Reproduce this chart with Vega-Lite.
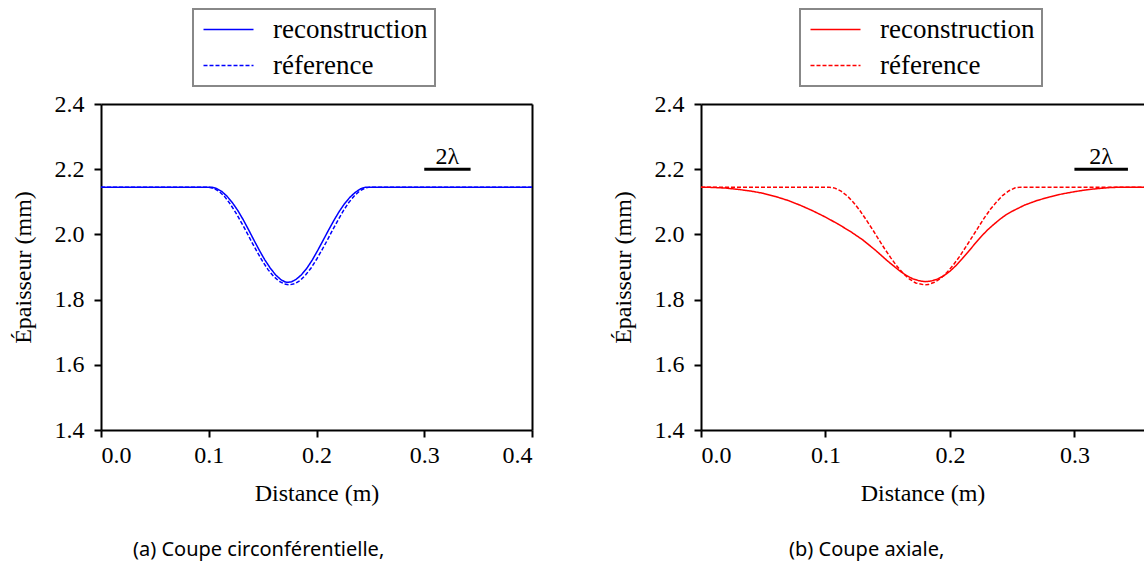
{
  "$schema": "https://vega.github.io/schema/vega-lite/v6.json",
  "background": "white",
  "padding": {"left": 11, "top": 8, "right": 0, "bottom": 10},
  "spacing": 169,
  "bounds": "flush",
  "config": {
    "view": {"stroke": null},
    "font": "Liberation Serif",
    "axis": {
      "domainColor": "black", "domainWidth": 2, "tickColor": "black", "tickWidth": 2, "tickSize": 7,
      "labelFont": "Liberation Serif", "labelFontSize": 24, "labelColor": "black", "labelPadding": 6,
      "titleFont": "Liberation Serif", "titleFontSize": 24, "titleFontWeight": "normal", "titleColor": "black",
      "grid": false
    },
    "legend": {
      "orient": "none", "title": null, "symbolType": "M-1,0H4", "symbolSize": 400, "symbolStrokeWidth": 1.5,
      "labelFont": "Liberation Serif", "labelFontSize": 27, "labelColor": "black", "labelOffset": 46,
      "strokeColor": "#888888", "strokeWidth": 2, "fillColor": "white", "padding": 7, "rowPadding": 8, "cornerRadius": 0
    }
  },
  "datasets": {
    "a": [
      {"s": "réference", "d": 0, "t": 2.145},
      {"s": "réference", "d": 0.0995, "t": 2.145},
      {"s": "réference", "d": 0.105, "t": 2.141},
      {"s": "réference", "d": 0.11, "t": 2.131},
      {"s": "réference", "d": 0.115, "t": 2.115},
      {"s": "réference", "d": 0.12, "t": 2.093},
      {"s": "réference", "d": 0.125, "t": 2.067},
      {"s": "réference", "d": 0.13, "t": 2.038},
      {"s": "réference", "d": 0.135, "t": 2.008},
      {"s": "réference", "d": 0.14, "t": 1.976},
      {"s": "réference", "d": 0.145, "t": 1.946},
      {"s": "réference", "d": 0.15, "t": 1.917},
      {"s": "réference", "d": 0.155, "t": 1.892},
      {"s": "réference", "d": 0.16, "t": 1.872},
      {"s": "réference", "d": 0.165, "t": 1.857},
      {"s": "réference", "d": 0.17, "t": 1.848},
      {"s": "réference", "d": 0.1745, "t": 1.845},
      {"s": "réference", "d": 0.18, "t": 1.849},
      {"s": "réference", "d": 0.185, "t": 1.859},
      {"s": "réference", "d": 0.19, "t": 1.876},
      {"s": "réference", "d": 0.195, "t": 1.897},
      {"s": "réference", "d": 0.2, "t": 1.923},
      {"s": "réference", "d": 0.205, "t": 1.952},
      {"s": "réference", "d": 0.21, "t": 1.982},
      {"s": "réference", "d": 0.215, "t": 2.014},
      {"s": "réference", "d": 0.22, "t": 2.044},
      {"s": "réference", "d": 0.225, "t": 2.073},
      {"s": "réference", "d": 0.23, "t": 2.098},
      {"s": "réference", "d": 0.235, "t": 2.118},
      {"s": "réference", "d": 0.24, "t": 2.133},
      {"s": "réference", "d": 0.245, "t": 2.142},
      {"s": "réference", "d": 0.2495, "t": 2.145},
      {"s": "réference", "d": 0.4, "t": 2.145},
      {"s": "reconstruction", "d": 0, "t": 2.145},
      {"s": "reconstruction", "d": 0.1025, "t": 2.145},
      {"s": "reconstruction", "d": 0.107, "t": 2.141},
      {"s": "reconstruction", "d": 0.112, "t": 2.132},
      {"s": "reconstruction", "d": 0.117, "t": 2.117},
      {"s": "reconstruction", "d": 0.122, "t": 2.097},
      {"s": "reconstruction", "d": 0.127, "t": 2.073},
      {"s": "reconstruction", "d": 0.132, "t": 2.045},
      {"s": "reconstruction", "d": 0.137, "t": 2.014},
      {"s": "reconstruction", "d": 0.142, "t": 1.982},
      {"s": "reconstruction", "d": 0.147, "t": 1.951},
      {"s": "reconstruction", "d": 0.152, "t": 1.922},
      {"s": "reconstruction", "d": 0.157, "t": 1.897},
      {"s": "reconstruction", "d": 0.162, "t": 1.876},
      {"s": "reconstruction", "d": 0.167, "t": 1.861},
      {"s": "reconstruction", "d": 0.171, "t": 1.854},
      {"s": "reconstruction", "d": 0.174, "t": 1.853},
      {"s": "reconstruction", "d": 0.177, "t": 1.855},
      {"s": "reconstruction", "d": 0.181, "t": 1.862},
      {"s": "reconstruction", "d": 0.186, "t": 1.876},
      {"s": "reconstruction", "d": 0.191, "t": 1.896},
      {"s": "reconstruction", "d": 0.196, "t": 1.921},
      {"s": "reconstruction", "d": 0.201, "t": 1.95},
      {"s": "reconstruction", "d": 0.206, "t": 1.981},
      {"s": "reconstruction", "d": 0.211, "t": 2.012},
      {"s": "reconstruction", "d": 0.216, "t": 2.042},
      {"s": "reconstruction", "d": 0.221, "t": 2.07},
      {"s": "reconstruction", "d": 0.226, "t": 2.094},
      {"s": "reconstruction", "d": 0.231, "t": 2.114},
      {"s": "reconstruction", "d": 0.236, "t": 2.129},
      {"s": "reconstruction", "d": 0.241, "t": 2.14},
      {"s": "reconstruction", "d": 0.2455, "t": 2.145},
      {"s": "reconstruction", "d": 0.4, "t": 2.145}
    ],
    "b": [
      {"s": "réference", "d": 0, "t": 2.145},
      {"s": "réference", "d": 0.1025, "t": 2.145},
      {"s": "réference", "d": 0.1075, "t": 2.142},
      {"s": "réference", "d": 0.1125, "t": 2.133},
      {"s": "réference", "d": 0.1175, "t": 2.118},
      {"s": "réference", "d": 0.1225, "t": 2.098},
      {"s": "réference", "d": 0.1275, "t": 2.074},
      {"s": "réference", "d": 0.1325, "t": 2.046},
      {"s": "réference", "d": 0.1375, "t": 2.017},
      {"s": "réference", "d": 0.1425, "t": 1.986},
      {"s": "réference", "d": 0.1475, "t": 1.956},
      {"s": "réference", "d": 0.1525, "t": 1.928},
      {"s": "réference", "d": 0.1575, "t": 1.902},
      {"s": "réference", "d": 0.1625, "t": 1.88},
      {"s": "réference", "d": 0.1675, "t": 1.863},
      {"s": "réference", "d": 0.1725, "t": 1.851},
      {"s": "réference", "d": 0.1797, "t": 1.845},
      {"s": "réference", "d": 0.1825, "t": 1.846},
      {"s": "réference", "d": 0.1875, "t": 1.853},
      {"s": "réference", "d": 0.1925, "t": 1.865},
      {"s": "réference", "d": 0.1975, "t": 1.883},
      {"s": "réference", "d": 0.2025, "t": 1.905},
      {"s": "réference", "d": 0.2075, "t": 1.931},
      {"s": "réference", "d": 0.2125, "t": 1.96},
      {"s": "réference", "d": 0.2175, "t": 1.99},
      {"s": "réference", "d": 0.2225, "t": 2.02},
      {"s": "réference", "d": 0.2275, "t": 2.05},
      {"s": "réference", "d": 0.2325, "t": 2.077},
      {"s": "réference", "d": 0.2375, "t": 2.1},
      {"s": "réference", "d": 0.2425, "t": 2.12},
      {"s": "réference", "d": 0.2475, "t": 2.134},
      {"s": "réference", "d": 0.2525, "t": 2.143},
      {"s": "réference", "d": 0.257, "t": 2.145},
      {"s": "réference", "d": 0.36, "t": 2.145},
      {"s": "reconstruction", "d": 0, "t": 2.145},
      {"s": "reconstruction", "d": 0.01, "t": 2.144},
      {"s": "reconstruction", "d": 0.02, "t": 2.142},
      {"s": "reconstruction", "d": 0.03, "t": 2.138},
      {"s": "reconstruction", "d": 0.04, "t": 2.133},
      {"s": "reconstruction", "d": 0.05, "t": 2.126},
      {"s": "reconstruction", "d": 0.06, "t": 2.116},
      {"s": "reconstruction", "d": 0.07, "t": 2.104},
      {"s": "reconstruction", "d": 0.08, "t": 2.089},
      {"s": "reconstruction", "d": 0.09, "t": 2.072},
      {"s": "reconstruction", "d": 0.1, "t": 2.053},
      {"s": "reconstruction", "d": 0.11, "t": 2.032},
      {"s": "reconstruction", "d": 0.12, "t": 2.009},
      {"s": "reconstruction", "d": 0.13, "t": 1.983},
      {"s": "reconstruction", "d": 0.14, "t": 1.952},
      {"s": "reconstruction", "d": 0.15, "t": 1.918},
      {"s": "reconstruction", "d": 0.16, "t": 1.887},
      {"s": "reconstruction", "d": 0.165, "t": 1.874},
      {"s": "reconstruction", "d": 0.17, "t": 1.864},
      {"s": "reconstruction", "d": 0.175, "t": 1.858},
      {"s": "reconstruction", "d": 0.18, "t": 1.855},
      {"s": "reconstruction", "d": 0.185, "t": 1.857},
      {"s": "reconstruction", "d": 0.19, "t": 1.863},
      {"s": "reconstruction", "d": 0.195, "t": 1.873},
      {"s": "reconstruction", "d": 0.2, "t": 1.887},
      {"s": "reconstruction", "d": 0.205, "t": 1.905},
      {"s": "reconstruction", "d": 0.21, "t": 1.926},
      {"s": "reconstruction", "d": 0.215, "t": 1.948},
      {"s": "reconstruction", "d": 0.22, "t": 1.971},
      {"s": "reconstruction", "d": 0.225, "t": 1.993},
      {"s": "reconstruction", "d": 0.23, "t": 2.013},
      {"s": "reconstruction", "d": 0.235, "t": 2.03},
      {"s": "reconstruction", "d": 0.24, "t": 2.046},
      {"s": "reconstruction", "d": 0.245, "t": 2.06},
      {"s": "reconstruction", "d": 0.25, "t": 2.071},
      {"s": "reconstruction", "d": 0.26, "t": 2.09},
      {"s": "reconstruction", "d": 0.27, "t": 2.104},
      {"s": "reconstruction", "d": 0.28, "t": 2.115},
      {"s": "reconstruction", "d": 0.29, "t": 2.124},
      {"s": "reconstruction", "d": 0.3, "t": 2.131},
      {"s": "reconstruction", "d": 0.31, "t": 2.137},
      {"s": "reconstruction", "d": 0.32, "t": 2.141},
      {"s": "reconstruction", "d": 0.33, "t": 2.144},
      {"s": "reconstruction", "d": 0.34, "t": 2.145},
      {"s": "reconstruction", "d": 0.36, "t": 2.145}
    ]
  },
  "hconcat": [
    {
      "width": 431,
      "height": 326,
      "title": {"text": "(a) Coupe circonférentielle,", "orient": "bottom", "anchor": "start", "frame": "group", "dx": 32, "offset": 35, "font": "Noto Sans", "fontSize": 20, "fontWeight": "normal", "color": "black"},
      "layer": [
        {
          "data": {"name": "a"},
          "mark": {"type": "line", "strokeWidth": 1.5, "clip": true},
          "encoding": {
            "x": {"field": "d", "type": "quantitative", "scale": {"domain": [0, 0.4], "nice": false}, "axis": {"values": [0, 0.1, 0.2, 0.3, 0.4], "format": ".1f", "title": "Distance (m)", "titlePadding": 14}},
            "y": {"field": "t", "type": "quantitative", "scale": {"domain": [1.4, 2.4], "nice": false, "zero": false}, "axis": {"values": [1.4, 1.6, 1.8, 2.0, 2.2, 2.4], "format": ".1f", "title": "Épaisseur (mm)", "titlePadding": 19, "labelPadding": 10}},
            "color": {"field": "s", "type": "nominal", "scale": {"domain": ["reconstruction", "réference"], "range": ["blue", "blue"]}, "legend": {"orient": "none", "legendX": 92, "legendY": -95, "title": null}},
            "strokeDash": {"field": "s", "type": "nominal", "scale": {"domain": ["reconstruction", "réference"], "range": [[1, 0], [4, 2]]}, "legend": {"orient": "none", "legendX": 92, "legendY": -95, "title": null}}
          }
        },
        {
          "data": {"values": [{}]},
          "mark": {"type": "rule", "strokeWidth": 3, "color": "black"},
          "encoding": {
            "x": {"datum": 0.3, "type": "quantitative", "scale": {"domain": [0, 0.4], "nice": false}, "axis": {"orient": "top", "labels": false, "ticks": false, "title": null}},
            "x2": {"datum": 0.343},
            "y": {"datum": 2.2, "type": "quantitative", "scale": {"domain": [1.4, 2.4], "nice": false, "zero": false}, "axis": {"orient": "right", "labels": false, "ticks": false, "title": null}}
          }
        },
        {
          "data": {"values": [{}]},
          "mark": {"type": "text", "font": "Liberation Serif", "fontSize": 24, "baseline": "alphabetic", "align": "center", "dy": -5, "color": "black"},
          "encoding": {
            "x": {"datum": 0.3215, "type": "quantitative", "axis": null},
            "y": {"datum": 2.2, "type": "quantitative", "axis": null},
            "text": {"value": "2λ"}
          }
        }
      ],
      "resolve": {"axis": {"x": "independent", "y": "independent"}}
    },
    {
      "width": 443,
      "height": 326,
      "title": {"text": "(b) Coupe axiale,", "orient": "bottom", "anchor": "start", "frame": "group", "dx": 88, "offset": 35, "font": "Noto Sans", "fontSize": 20, "fontWeight": "normal", "color": "black"},
      "layer": [
        {
          "data": {"name": "b"},
          "mark": {"type": "line", "strokeWidth": 1.5, "clip": true},
          "encoding": {
            "x": {"field": "d", "type": "quantitative", "scale": {"domain": [0, 0.3559], "nice": false}, "axis": {"values": [0, 0.1, 0.2, 0.3], "format": ".1f", "title": "Distance (m)", "titlePadding": 14}},
            "y": {"field": "t", "type": "quantitative", "scale": {"domain": [1.4, 2.4], "nice": false, "zero": false}, "axis": {"values": [1.4, 1.6, 1.8, 2.0, 2.2, 2.4], "format": ".1f", "title": "Épaisseur (mm)", "titlePadding": 19, "labelPadding": 10}},
            "color": {"field": "s", "type": "nominal", "scale": {"domain": ["reconstruction", "réference"], "range": ["red", "red"]}, "legend": {"orient": "none", "legendX": 99, "legendY": -95, "title": null}},
            "strokeDash": {"field": "s", "type": "nominal", "scale": {"domain": ["reconstruction", "réference"], "range": [[1, 0], [4, 2]]}, "legend": {"orient": "none", "legendX": 99, "legendY": -95, "title": null}}
          }
        },
        {
          "data": {"values": [{}]},
          "mark": {"type": "rule", "strokeWidth": 3, "color": "black"},
          "encoding": {
            "x": {"datum": 0.3, "type": "quantitative", "scale": {"domain": [0, 0.3559], "nice": false}, "axis": {"orient": "top", "labels": false, "ticks": false, "title": null}},
            "x2": {"datum": 0.343},
            "y": {"datum": 2.2, "type": "quantitative", "scale": {"domain": [1.4, 2.4], "nice": false, "zero": false}, "axis": null}
          }
        },
        {
          "data": {"values": [{}]},
          "mark": {"type": "text", "font": "Liberation Serif", "fontSize": 24, "baseline": "alphabetic", "align": "center", "dy": -5, "color": "black"},
          "encoding": {
            "x": {"datum": 0.3215, "type": "quantitative", "axis": null},
            "y": {"datum": 2.2, "type": "quantitative", "axis": null},
            "text": {"value": "2λ"}
          }
        }
      ],
      "resolve": {"axis": {"x": "independent", "y": "independent"}}
    }
  ],
  "resolve": {"scale": {"color": "independent", "strokeDash": "independent"}, "legend": {"color": "independent", "strokeDash": "independent"}}
}
